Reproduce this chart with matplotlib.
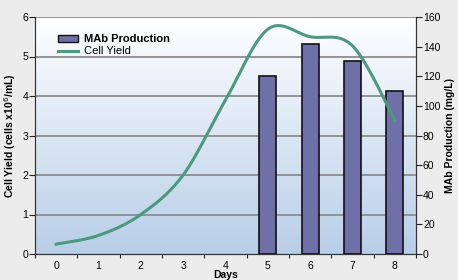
import numpy as np
from matplotlib import pyplot as plt
from matplotlib.patches import Patch
from matplotlib.lines import Line2D

plt.rcParams['font.family'] = ['Liberation Sans', 'DejaVu Sans']

days = [0, 1, 2, 3, 4, 5, 6, 7, 8]
cell_yield = [0.25, 0.47, 1.0, 2.0, 3.9, 5.69, 5.5, 5.27, 3.39]
mab_days = [5, 6, 7, 8]
mab = [120, 142, 130, 110]


def smooth(x, y, n=30):
    # catmull-rom like excel smoothed line
    x = np.asarray(x, float)
    y = np.asarray(y, float)
    px = np.concatenate([[x[0]], x, [x[-1]]])
    py = np.concatenate([[y[0]], y, [y[-1]]])
    xs, ys = [], []
    t = np.linspace(0, 1, n)
    for i in range(1, len(px) - 2):
        p0, p1, p2, p3 = px[i-1], px[i], px[i+1], px[i+2]
        q0, q1, q2, q3 = py[i-1], py[i], py[i+1], py[i+2]
        c1x, c1y = p1 + (p2 - p0) / 6, q1 + (q2 - q0) / 6
        c2x, c2y = p2 - (p3 - p1) / 6, q2 - (q3 - q1) / 6
        bx = (1-t)**3*p1 + 3*(1-t)**2*t*c1x + 3*(1-t)*t**2*c2x + t**3*p2
        by = (1-t)**3*q1 + 3*(1-t)**2*t*c1y + 3*(1-t)*t**2*c2y + t**3*q2
        xs.extend(bx)
        ys.extend(by)
    return np.array(xs), np.array(ys)


fig = plt.figure(figsize=(4.58, 2.8), dpi=100, facecolor='#ececec')
ax = fig.add_axes([35/458, 1 - 254/280, (416-35)/458, (254-17)/280])
ax.set_facecolor('none')

# gradient background
grad = np.linspace(0, 1, 256).reshape(-1, 1)
top = np.array([1.0, 1.0, 1.0])
bot = np.array([0xb8, 0xce, 0xe8]) / 255
img = bot + (top - bot) * grad
ax.imshow(img.reshape(256, 1, 3), extent=[-0.5, 8.5, 0, 6], origin='lower',
          aspect='auto', zorder=0)

ax.set_xlim(-0.5, 8.5)
ax.set_ylim(0, 6)
for v in range(1, 7):
    ax.axhline(v, color='#8c8c8c', lw=1.3, zorder=1)

ax2 = ax.twinx()
ax2.set_ylim(0, 160)
ax2.bar(mab_days, mab, width=0.4, color='#7070a8', edgecolor='#111111',
        lw=1.2, zorder=2)

sx, sy = smooth(days, cell_yield)
ax3 = ax.twinx()
ax3.set_ylim(0, 6)
ax3.axis('off')
ax3.plot(sx, sy, color='#4b9a80', lw=2.2, zorder=3)
ax2.yaxis.tick_right()
ax2.yaxis.set_label_position('right')

ax.set_xticks(np.arange(-0.5, 9, 1))
ax.set_xticklabels([])
ax.set_xticks(days, minor=True)
ax.set_xticklabels([str(d) for d in days], minor=True)
ax.tick_params(axis='x', which='major', length=3, direction='out', color='#222222')
ax.tick_params(axis='x', which='minor', length=0, labelsize=7.5, pad=5)
ax.set_yticks(range(7))
ax.tick_params(axis='y', length=4, labelsize=7.5, pad=1, color='#222222')
ax2.set_yticks(range(0, 161, 20))
ax2.tick_params(axis='y', length=4, labelsize=7.5, pad=1, color='#222222')

for a in (ax, ax2):
    a.spines['top'].set_visible(False)
    for s in ('left', 'right', 'bottom'):
        a.spines[s].set_color('#333333')

ax.set_ylabel('Cell Yield (cells x10$^6$/mL)', fontsize=7.5, fontweight='bold',
              labelpad=3)
ax2.set_ylabel('MAb Production (mg/L)', fontsize=7.5, fontweight='bold',
               labelpad=3)
ax.set_xlabel('Days', fontsize=7.5, fontweight='bold', labelpad=-1)

handles = [Patch(facecolor='#7070a8', edgecolor='#111111', lw=1),
           Line2D([0], [0], color='#4b9a80', lw=2.2)]
leg = ax3.legend(handles, ['MAb Production', 'Cell Yield'], loc='upper left',
                 bbox_to_anchor=(0.035, 0.97), frameon=False, fontsize=8,
                 handlelength=1.8, handleheight=0.6, labelspacing=0.2,
                 handletextpad=0.5)
leg.get_texts()[0].set_fontweight('bold')

plt.savefig('out.png', dpi=100, facecolor=fig.get_facecolor())
